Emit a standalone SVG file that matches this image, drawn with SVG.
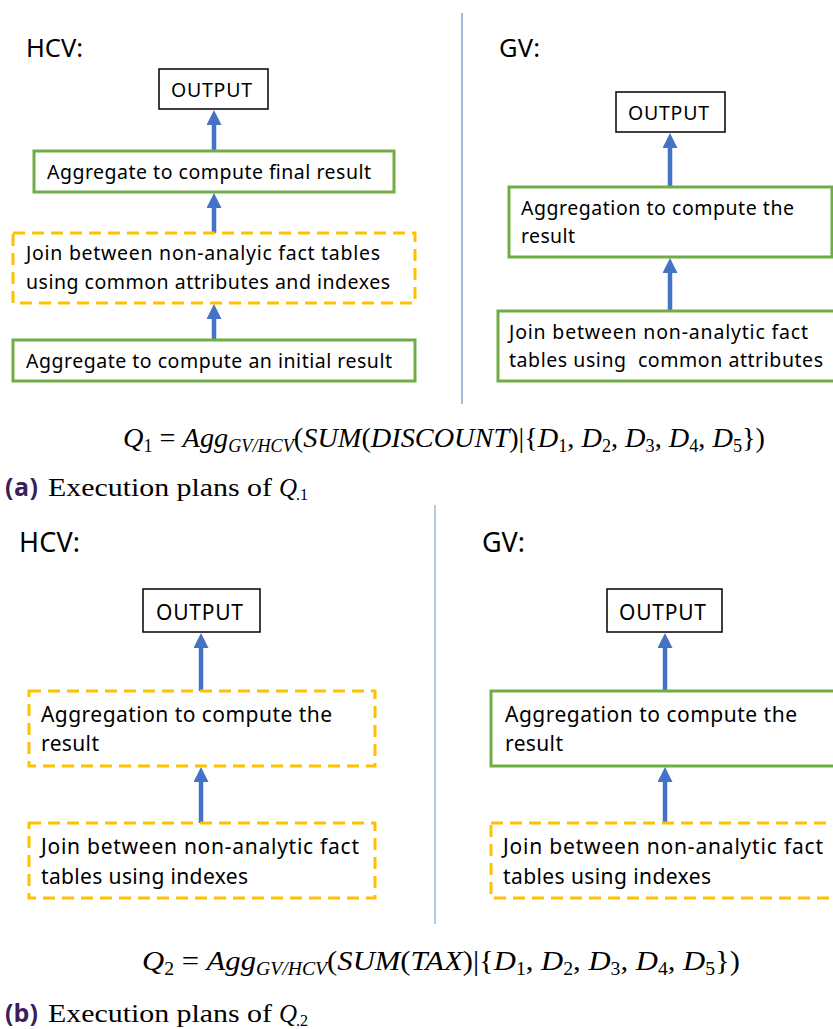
<svg xmlns="http://www.w3.org/2000/svg" width="833" height="1029" viewBox="0 0 833 1029">
<defs>
<style>
.lbl{font-family:"Noto Sans","Open Sans",sans-serif;fill:#000;}
.t{font-family:"Noto Sans","Open Sans",sans-serif;font-size:19.5px;fill:#000;white-space:pre;}
.tb{font-family:"Noto Sans","Open Sans",sans-serif;font-size:21px;fill:#000;white-space:pre;}
.out{fill:#fff;stroke:#000;stroke-width:1.5;}
.green{fill:#fff;stroke:#70AD47;stroke-width:3;}
.dash{fill:#fff;stroke:#FFC000;stroke-width:3;stroke-dasharray:12 7;}
.arr{stroke:#4472C4;stroke-width:4.5;fill:none;marker-end:url(#ah);}
.math{font-family:"Liberation Serif","Times New Roman",serif;font-style:italic;font-size:28px;fill:#000;}
.up{font-style:normal;}
.sub{font-size:18px;}
.cap{font-family:"Liberation Serif","Times New Roman",serif;font-size:25px;fill:#000;}
.capb{font-family:"Open Sans","Noto Sans",sans-serif;font-weight:bold;font-size:25px;fill:#3b1f5c;}
.capq{font-family:"Liberation Serif","Times New Roman",serif;font-style:italic;font-size:25px;fill:#000;}
.caps{font-family:"Liberation Serif","Times New Roman",serif;font-size:16px;fill:#000;}
</style>
<marker id="ah" markerUnits="userSpaceOnUse" markerWidth="16" markerHeight="16" refX="1" refY="7.5" orient="auto">
<path d="M0,0 L15,7.5 L0,15 z" fill="#4472C4"/>
</marker>
</defs>
<rect width="833" height="1029" fill="#fff"/>

<g id="dividers">
<line x1="462" y1="13" x2="462" y2="404" stroke="#7891c6" stroke-width="1.3"/>
<line x1="435" y1="505" x2="435" y2="924" stroke="#8eaadb" stroke-width="1.3"/>
</g>

<g id="connectors">
<line class="arr" x1="214" y1="151" x2="214" y2="124"/>
<line class="arr" x1="214" y1="233" x2="214" y2="207"/>
<line class="arr" x1="214" y1="340" x2="214" y2="318"/>
<line class="arr" x1="670" y1="187" x2="670" y2="147"/>
<line class="arr" x1="670" y1="311" x2="670" y2="272"/>
<line class="arr" x1="201" y1="691" x2="201" y2="647"/>
<line class="arr" x1="201" y1="823" x2="201" y2="781"/>
<line class="arr" x1="665" y1="691" x2="665" y2="647"/>
<line class="arr" x1="665" y1="823" x2="665" y2="781"/>
</g>

<text class="lbl" x="26" y="57" font-size="25.5" textLength="57">HCV:</text>
<g id="hcv1-output">
<rect class="out" x="159" y="69" width="109" height="40"/>
<text class="t" x="171" y="97" textLength="81">OUTPUT</text>
</g>
<g id="hcv1-agg-final">
<rect class="green" x="34" y="151" width="360" height="41"/>
<text class="t" x="47" y="179" textLength="324">Aggregate to compute final result</text>
</g>
<g id="hcv1-join">
<rect class="dash" x="13" y="233" width="402" height="70"/>
<text class="t" x="26" y="260" textLength="354">Join between non-analyic fact tables</text>
<text class="t" x="26" y="289" textLength="364">using common attributes and indexes</text>
</g>
<g id="hcv1-agg-initial">
<rect class="green" x="13" y="340" width="402" height="41"/>
<text class="t" x="26" y="368" textLength="366">Aggregate to compute an initial result</text>
</g>

<text class="lbl" x="499" y="57" font-size="25.5" textLength="41">GV:</text>
<g id="gv1-output">
<rect class="out" x="616" y="92" width="109" height="40"/>
<text class="t" x="628" y="120" textLength="81">OUTPUT</text>
</g>
<g id="gv1-agg">
<rect class="green" x="509" y="187" width="323" height="70"/>
<text class="t" x="521" y="215" textLength="273">Aggregation to compute the</text>
<text class="t" x="521" y="243" textLength="54">result</text>
</g>
<g id="gv1-join">
<rect class="green" x="498" y="311" width="345" height="70"/>
<text class="t" x="509" y="339" textLength="299">Join between non-analytic fact</text>
<text class="t" x="509" y="367" textLength="314">tables using  common attributes</text>
</g>

<text class="math" x="123" y="447" textLength="642" lengthAdjust="spacingAndGlyphs">Q<tspan class="up sub" dy="5">1</tspan><tspan class="up" dy="-5"> = </tspan>Agg<tspan class="sub" dy="5">GV/HCV</tspan><tspan class="up" dy="-5">(</tspan>SUM<tspan class="up">(</tspan>DISCOUNT<tspan class="up">)|{</tspan>D<tspan class="up sub" dy="5">1</tspan><tspan class="up" dy="-5">, </tspan>D<tspan class="up sub" dy="5">2</tspan><tspan class="up" dy="-5">, </tspan>D<tspan class="up sub" dy="5">3</tspan><tspan class="up" dy="-5">, </tspan>D<tspan class="up sub" dy="5">4</tspan><tspan class="up" dy="-5">, </tspan>D<tspan class="up sub" dy="5">5</tspan><tspan class="up" dy="-5">})</tspan></text>

<g id="caption-a">
<text class="capb" x="5" y="496" textLength="33">(a)</text>
<text class="cap" x="48" y="496" textLength="224" lengthAdjust="spacingAndGlyphs">Execution plans of</text>
<text class="capq" x="279" y="496">Q</text>
<text class="caps" x="296" y="500">.1</text>
</g>

<text class="lbl" x="19" y="552" font-size="27" textLength="61">HCV:</text>
<g id="hcv2-output">
<rect class="out" x="143" y="589" width="117" height="43"/>
<text class="tb" x="156" y="620" textLength="87">OUTPUT</text>
</g>
<g id="hcv2-agg">
<rect class="dash" x="29" y="691" width="346" height="75"/>
<text class="tb" x="41" y="722" textLength="291">Aggregation to compute the</text>
<text class="tb" x="41" y="751" textLength="58">result</text>
</g>
<g id="hcv2-join">
<rect class="dash" x="29" y="823" width="346" height="75"/>
<text class="tb" x="41" y="854" textLength="318">Join between non-analytic fact</text>
<text class="tb" x="41" y="884" textLength="207">tables using indexes</text>
</g>

<text class="lbl" x="482" y="552" font-size="27" textLength="43">GV:</text>
<g id="gv2-output">
<rect class="out" x="607" y="589" width="115" height="43"/>
<text class="tb" x="619" y="620" textLength="87">OUTPUT</text>
</g>
<g id="gv2-agg">
<rect class="green" x="491" y="691" width="350" height="75"/>
<text class="tb" x="505" y="722" textLength="292">Aggregation to compute the</text>
<text class="tb" x="505" y="751" textLength="58">result</text>
</g>
<g id="gv2-join">
<rect class="dash" x="491" y="823" width="350" height="75"/>
<text class="tb" x="503" y="854" textLength="320">Join between non-analytic fact</text>
<text class="tb" x="503" y="884" textLength="208">tables using indexes</text>
</g>

<text class="math" x="142" y="970" textLength="598" lengthAdjust="spacingAndGlyphs">Q<tspan class="up sub" dy="5">2</tspan><tspan class="up" dy="-5"> = </tspan>Agg<tspan class="sub" dy="5">GV/HCV</tspan><tspan class="up" dy="-5">(</tspan>SUM<tspan class="up">(</tspan>TAX<tspan class="up">)|{</tspan>D<tspan class="up sub" dy="5">1</tspan><tspan class="up" dy="-5">, </tspan>D<tspan class="up sub" dy="5">2</tspan><tspan class="up" dy="-5">, </tspan>D<tspan class="up sub" dy="5">3</tspan><tspan class="up" dy="-5">, </tspan>D<tspan class="up sub" dy="5">4</tspan><tspan class="up" dy="-5">, </tspan>D<tspan class="up sub" dy="5">5</tspan><tspan class="up" dy="-5">})</tspan></text>

<g id="caption-b">
<text class="capb" x="5" y="1022" textLength="33">(b)</text>
<text class="cap" x="48" y="1022" textLength="224" lengthAdjust="spacingAndGlyphs">Execution plans of</text>
<text class="capq" x="279" y="1022">Q</text>
<text class="caps" x="296" y="1026">.2</text>
</g>
</svg>
